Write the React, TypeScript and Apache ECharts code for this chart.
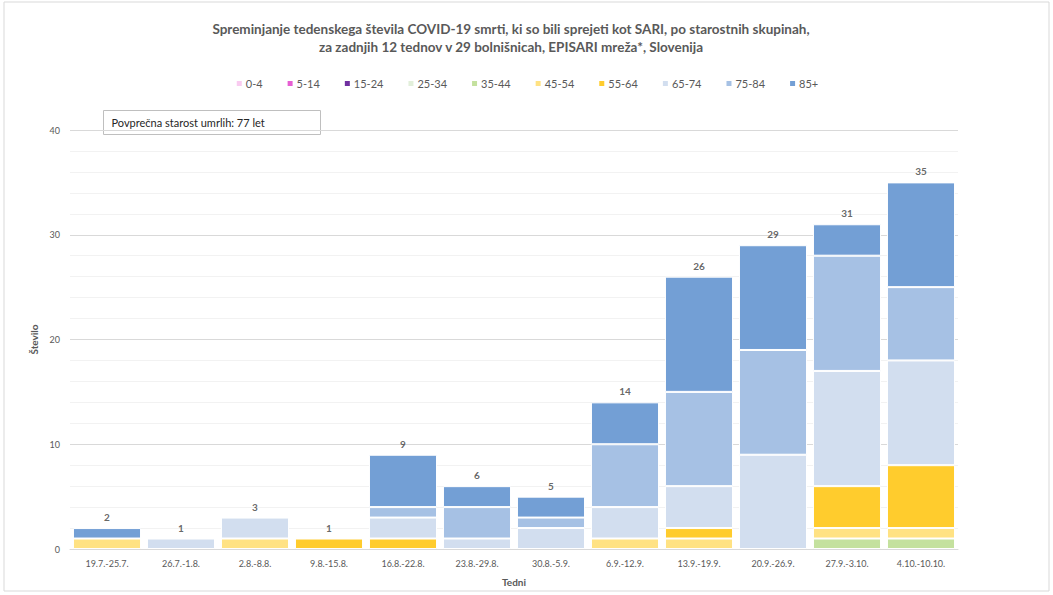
import React, { useEffect, useRef } from "react";
import * as echarts from "echarts";

const weeks = ["19.7.-25.7.", "26.7.-1.8.", "2.8.-8.8.", "9.8.-15.8.", "16.8.-22.8.", "23.8.-29.8.", "30.8.-5.9.", "6.9.-12.9.", "13.9.-19.9.", "20.9.-26.9.", "27.9.-3.10.", "4.10.-10.10."];
const ageGroups = ["0-4", "5-14", "15-24", "25-34", "35-44", "45-54", "55-64", "65-74", "75-84", "85+"];
const colors = ["#F9CBF0", "#E65FD2", "#7030A0", "#E2EFDA", "#C4E19E", "#FFE283", "#FFCC2D", "#D2DEEF", "#A6C1E4", "#739FD5"];

const a0_4 = [0, 0, 0, 0, 0, 0, 0, 0, 0, 0, 0, 0];
const a5_14 = [0, 0, 0, 0, 0, 0, 0, 0, 0, 0, 0, 0];
const a15_24 = [0, 0, 0, 0, 0, 0, 0, 0, 0, 0, 0, 0];
const a25_34 = [0, 0, 0, 0, 0, 0, 0, 0, 0, 0, 0, 0];
const a35_44 = [0, 0, 0, 0, 0, 0, 0, 0, 0, 0, 1, 1];
const a45_54 = [1, 0, 1, 0, 0, 0, 0, 1, 1, 0, 1, 1];
const a55_64 = [0, 0, 0, 1, 1, 0, 0, 0, 1, 0, 4, 6];
const a65_74 = [0, 1, 2, 0, 2, 1, 2, 3, 4, 9, 11, 10];
const a75_84 = [0, 0, 0, 0, 1, 3, 1, 6, 9, 10, 11, 7];
const a85 = [1, 0, 0, 0, 5, 2, 2, 4, 11, 10, 3, 10];

const seriesValues = [a0_4, a5_14, a15_24, a25_34, a35_44, a45_54, a55_64, a65_74, a75_84, a85];
const totals = weeks.map((_, i) => seriesValues.reduce((s, arr) => s + arr[i], 0));

const FONT = "Lato";

export default function App() {
  const ref = useRef<HTMLDivElement>(null);
  useEffect(() => {
    const chart = echarts.init(ref.current!, null, { renderer: "svg" });
    const barSeries: any[] = ageGroups.map((name, k) => ({
      name,
      type: "bar",
      stack: "total",
      barCategoryGap: "8%",
      itemStyle: { color: colors[k], borderColor: "#ffffff", borderWidth: 1 },
      data: seriesValues[k].map((v) => (v === 0 ? "-" : v)),
    }));
    barSeries.push({
      name: "Skupaj",
      type: "scatter",
      symbolSize: 0,
      data: totals,
      label: {
        show: true,
        position: "top",
        distance: 6,
        color: "#404040",
        fontWeight: "bold",
        fontSize: 10,
        fontFamily: FONT,
      },
      tooltip: { show: false },
    });
    chart.setOption({
      animation: false,
      textStyle: { fontFamily: FONT },
      title: {
        text: "Spreminjanje tedenskega števila COVID-19 smrti, ki so bili sprejeti kot SARI, po starostnih skupinah,\nza zadnjih 12 tednov v 29 bolnišnicah, EPISARI mreža*, Slovenija",
        left: 506,
        top: 15,
        textAlign: "center",
        textStyle: { fontSize: 13.5, fontWeight: "bold", color: "#595959", fontFamily: FONT, lineHeight: 18 },
      },
      legend: {
        data: ageGroups,
        top: 73,
        left: "center",
        itemWidth: 7,
        itemHeight: 7,
        itemGap: 23,
        icon: "rect",
        textStyle: { fontSize: 11, color: "#595959", fontFamily: FONT, padding: [0, 0, 0, -2] },
      },
      grid: { left: 70, right: 95, top: 130, bottom: 46 },
      xAxis: {
        type: "category",
        data: weeks,
        name: "Tedni",
        nameLocation: "middle",
        nameGap: 28,
        nameTextStyle: { fontSize: 10, fontWeight: "bold", color: "#595959", fontFamily: FONT },
        axisTick: { show: false },
        axisLine: { lineStyle: { color: "#D9D9D9" } },
        axisLabel: { fontSize: 9, color: "#595959", margin: 10, fontFamily: FONT },
      },
      yAxis: {
        type: "value",
        min: 0,
        max: 40,
        interval: 10,
        name: "Število",
        nameLocation: "middle",
        nameGap: 28,
        nameTextStyle: { fontSize: 10, fontWeight: "bold", color: "#595959", fontFamily: FONT },
        axisLabel: { fontSize: 9, color: "#595959", margin: 10, fontFamily: FONT },
        splitLine: { lineStyle: { color: "#D9D9D9" } },
        minorTick: { show: false, splitNumber: 5 },
        minorSplitLine: { show: true, lineStyle: { color: "#F2F2F2" } },
      },
      graphic: [
        {
          type: "rect",
          shape: { x: 4, y: 2, width: 1045, height: 589 },
          style: { fill: "none", stroke: "#D9D9D9", lineWidth: 1 },
          silent: true,
        },
        {
          type: "group",
          left: 103,
          top: 110,
          children: [
            {
              type: "rect",
              shape: { x: 0, y: 0, width: 217, height: 24 },
              style: { fill: "#ffffff", stroke: "#BFBFBF", lineWidth: 1 },
            },
            {
              type: "text",
              x: 8,
              y: 12,
              style: {
                text: "Povprečna starost umrlih: 77 let",
                fontSize: 11,
                fill: "#262626",
                fontFamily: FONT,
                textVerticalAlign: "middle",
              },
            },
          ],
        },
      ],
      series: barSeries,
    });
    return () => chart.dispose();
  }, []);
  return <div ref={ref} style={{ width: 1053, height: 595, position: "absolute", left: 0, top: 0 }} />;
}
